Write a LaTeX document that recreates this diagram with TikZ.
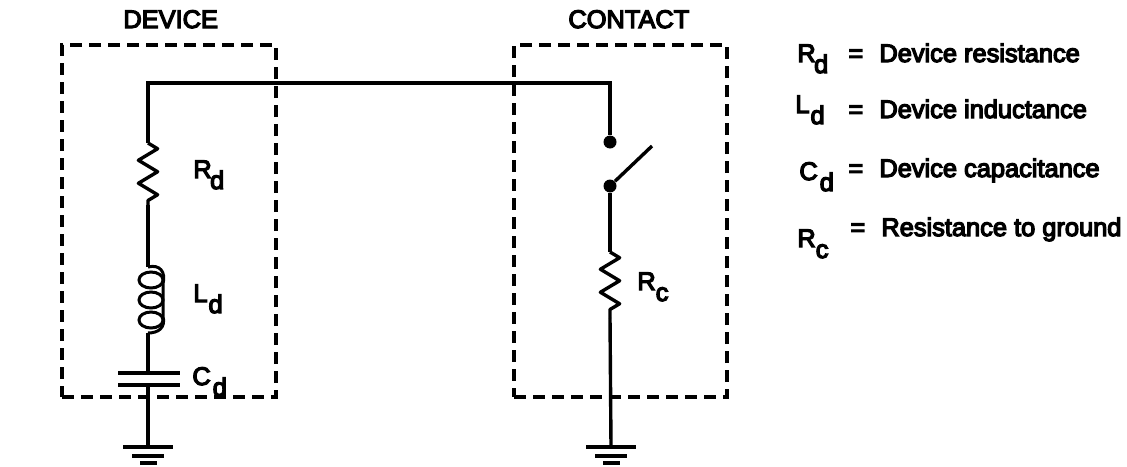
\documentclass[tikz,border=0pt]{standalone}
\usepackage{fontspec}
\setmainfont{Liberation Sans}[RawFeature={embolden=5}]
\usetikzlibrary{decorations.pathmorphing}
\newcommand{\subtxt}[3][0pt]{#2\kern#1\raisebox{-5.5pt}{#3}}
\tikzset{
  wire/.style={line width=1.7pt},
  dashbox/.style={draw,line width=1.9pt,dash pattern=on 6pt off 3.5pt,inner sep=0pt},
  zig/.style={wire,line join=round,decorate,decoration={zigzag,segment length=11.5pt,amplitude=4.8pt}},
  coilpart/.style={line width=1.5pt},
  dot/.style={circle,fill,inner sep=0pt,minimum size=6.5pt},
  txt/.style={anchor=base west,inner sep=0pt,font=\fontsize{12.7}{15}\selectfont}
}
\begin{document}
\begin{tikzpicture}[x=0.5pt,y=-0.5pt]
\useasboundingbox (0,0) rectangle (1127,466);
% boxes
\node [dashbox,minimum width=107pt,minimum height=176pt] (device) at (169,221) {};
\node [dashbox,minimum width=106.5pt,minimum height=176pt] (contact) at (620.5,221) {};
\node [txt] (devicetxt) at (123,28) {DEVICE};
\node [txt] (contacttxt) at (568,28) {CONTACT};
% left branch
\coordinate (corner1) at (148,83);
\coordinate (rdtop) at (148,143);
\coordinate (rdbot) at (148,205);
\coordinate (ldtop) at (148,267);
\coordinate (ldbot) at (148,333);
\coordinate (cdtop) at (148,373);
\coordinate (cdbot) at (148,385);
\coordinate (gnd1) at (148,447);
% right branch
\coordinate (corner2) at (610,83);
\node [dot] (contact1) at (610,142) {};
\node [dot] (contact2) at (610,186) {};
\coordinate (armend) at (652,146);
\coordinate (rctop) at (610,252);
\coordinate (rcbot) at (610,318);
\coordinate (gnd2) at (611,447);
\draw [wire] (rdtop) -- (corner1) -- (corner2) -- (contact1);
\draw [zig] (rdtop) -- (rdbot);
\draw [wire] (rdbot) -- (ldtop);
% inductor
\draw [coilpart] (ldtop) .. controls (160,264) and (166,272) .. (163,284) -- (163,316) .. controls (166,328) and (158,333) .. (ldbot);
\foreach \y in {280,300,320}
  \draw [coilpart] (151,\y) ellipse [x radius=12,y radius=8];
\draw [wire] (ldbot) -- (cdtop);
\draw [wire] (cdbot) -- (gnd1);
\draw [wire] (cdtop) ++(-30,0) -- ++(62,0);
\draw [wire] (cdbot) ++(-30,0) -- ++(62,0);
\draw [wire] (contact2) -- (armend);
\draw [wire] (contact2) -- (rctop);
\draw [zig] (rctop) -- (rcbot);
\draw [wire] (rcbot) -- (gnd2);
% grounds
\foreach \g in {gnd1,gnd2}{
  \draw [wire] (\g) ++(-25,0) -- ++(50,0);
  \draw [wire] (\g) ++(-16,9) -- ++(32,0);
  \draw [wire] (\g) ++(-8,16) -- ++(17,0);
}
% labels
\node [txt] (rdlabel) at (193,178) {\subtxt[-0.8pt]{R}{d}};
\node [txt] (ldlabel) at (193,302) {\subtxt[0.5pt]{L}{d}};
\node [txt] (cdlabel) at (192,385) {\subtxt[1pt]{C}{d}};
\node [txt] (rclabel) at (637,290) {\subtxt{R}{c}};
% legend
\node [txt] (rdkey) at (797,62) {\subtxt[-0.8pt]{R}{d}};
\node [txt] (ldkey) at (795,113) {\subtxt[0.5pt]{L}{d}};
\node [txt] (cdkey) at (799,180) {\subtxt[1pt]{C}{d}};
\node [txt] (rckey) at (797,247) {\subtxt{R}{c}};
\node [txt] (rdeq) at (848,62) {=};
\node [txt] (ldeq) at (848,118) {=};
\node [txt] (cdeq) at (848,177) {=};
\node [txt] (rceq) at (850,236) {=};
\node [txt] (rdtxt) at (879,62) {Device resistance};
\node [txt] (ldtxt) at (879,118) {Device inductance};
\node [txt] (cdtxt) at (879,177) {Device capacitance};
\node [txt] (rctxt) at (881,236) {Resistance to ground};
\end{tikzpicture}
\end{document}
